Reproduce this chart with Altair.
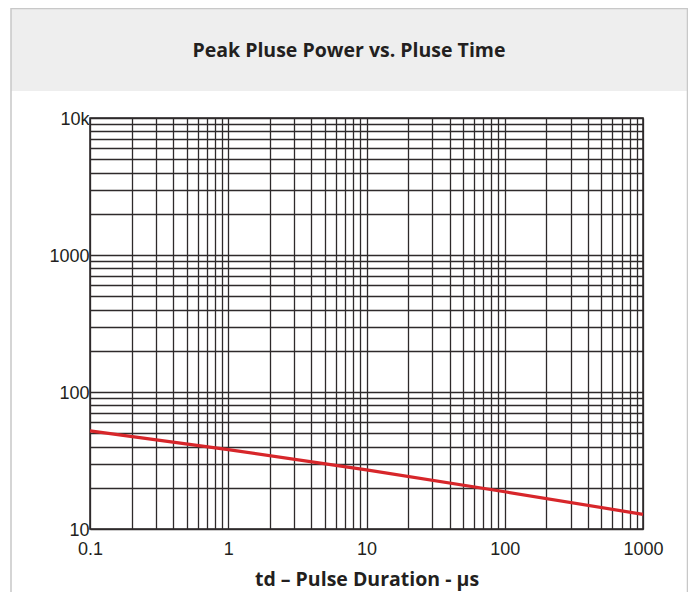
import altair as alt
import pandas as pd

# ---- data ----
pulse_us = [0.1, 1, 10, 100, 1000]
peak_power = [52, 38, 27, 18.7, 12.8]

x_grid = [0.1, 0.2, 0.3, 0.4, 0.5, 0.6, 0.7, 0.8, 0.9,
          1, 2, 3, 4, 5, 6, 7, 8, 9,
          10, 20, 30, 40, 50, 60, 70, 80, 90,
          100, 200, 300, 400, 500, 600, 700, 800, 900, 1000]
y_grid = [10, 20, 30, 40, 50, 60, 70, 80, 90,
          100, 200, 300, 400, 500, 600, 700, 800, 900,
          1000, 2000, 3000, 4000, 5000, 6000, 7000, 8000, 9000, 10000]
x_label_values = [0.1, 1, 10, 100, 1000]
x_label_text = ["0.1", "1", "10", "100", "1000"]
y_label_values = [10, 100, 1000, 10000]
y_label_text = ["10", "100", "1000", "10k"]

title_text = "Peak Pluse Power vs. Pluse Time"
x_title = "td \u2013 Pulse Duration - \u00b5s"


def label_expr(values, texts):
    expr = "''"
    for v, t in reversed(list(zip(values, texts))):
        expr = f"abs(datum.value - {v}) < {v} * 1e-6 ? '{t}' : ({expr})"
    return expr


df = pd.DataFrame({"t": pulse_us, "p": peak_power})
one = pd.DataFrame({"a": [0]})

W, H = 553, 411
TEXT = "#231f20"
GRID = "#2e2a2b"

x_enc = alt.X(
    "t:Q",
    scale=alt.Scale(type="log", domain=[0.1, 1000], nice=False),
    axis=alt.Axis(
        values=x_grid,
        labelExpr=label_expr(x_label_values, x_label_text),
        title=x_title,
        titleFont="Open Sans",
        titleFontSize=19.5,
        titleFontWeight="bold",
        titleColor=TEXT,
        titleBaseline="alphabetic",
        titleY=56,
        labelFont="Liberation Sans",
        labelFontSize=18,
        labelColor=TEXT,
        labelPadding=11,
        labelFlush=False,
        labelOverlap=False,
        ticks=False,
        domain=False,
        grid=True,
        gridColor=GRID,
        gridWidth=1.3,
        gridOpacity=1,
    ),
)
y_enc = alt.Y(
    "p:Q",
    scale=alt.Scale(type="log", domain=[10, 10000], nice=False),
    axis=alt.Axis(
        values=y_grid,
        labelExpr=label_expr(y_label_values, y_label_text),
        title=None,
        labelFont="Liberation Sans",
        labelFontSize=18,
        labelColor=TEXT,
        labelPadding=1,
        labelBaseline="alphabetic",
        labelOffset=6,
        labelFlush=False,
        labelOverlap=False,
        ticks=False,
        domain=False,
        grid=True,
        gridColor=GRID,
        gridWidth=1.3,
        gridOpacity=1,
    ),
)

band = alt.Chart(one).mark_rect(clip=False, fill="#eeeeee", stroke=None).encode(
    x=alt.value(-79), x2=alt.value(598), y=alt.value(-110), y2=alt.value(-27)
)
frame = alt.Chart(one).mark_rect(
    clip=False, fill=None, stroke="#c8c8c8", strokeWidth=1.5
).encode(x=alt.value(-79), x2=alt.value(597.5), y=alt.value(-109.5), y2=alt.value(480))
title = alt.Chart(one).mark_text(
    clip=False, font="Open Sans", fontSize=19.5, fontWeight="bold", color=TEXT,
    align="center", baseline="middle"
).encode(x=alt.value(259), y=alt.value(-67), text=alt.value(title_text))

line = alt.Chart(df).mark_line(color="#d7262a", strokeWidth=3.2).encode(
    x=x_enc, y=y_enc
)

chart = alt.layer(band, frame, title, line).properties(
    width=W,
    height=H,
    padding={"left": 82, "top": 110, "right": 45, "bottom": 63},
    autosize=alt.AutoSizeParams(type="none"),
    background="white",
).configure_view(stroke="#231f20", strokeWidth=1.5)

chart.save("out.html", embed_options={"renderer": "svg", "actions": False})
